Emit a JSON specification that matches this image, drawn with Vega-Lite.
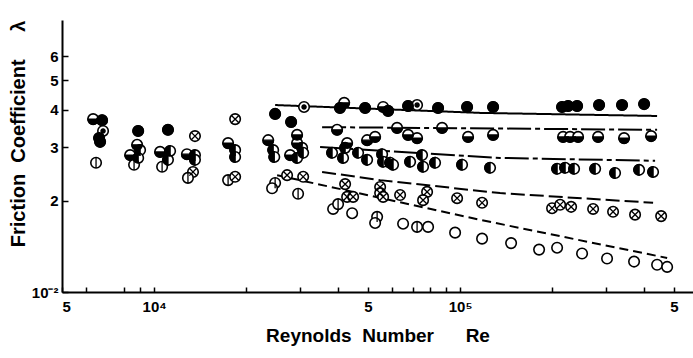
{
  "$schema": "https://vega.github.io/schema/vega-lite/v6.json",
  "width": 631,
  "height": 272,
  "autosize": {"type": "none"},
  "padding": {"left": 62, "top": 20, "right": 0, "bottom": 66},
  "background": "white",
  "config": {
    "view": {"stroke": null},
    "axis": {
      "grid": false,
      "labelFont": "Liberation Sans",
      "labelFontWeight": "bold",
      "labelFontSize": 15,
      "labelColor": "black",
      "titleFont": "Liberation Sans",
      "titleFontWeight": "bold",
      "titleFontSize": 19,
      "titleColor": "black",
      "domainColor": "black",
      "domainWidth": 2,
      "tickColor": "black",
      "tickWidth": 1.5
    }
  },
  "datasets": {
    "pts": [
      {"Re": 6320, "f": 3.72, "t": "B"}, {"Re": 6760, "f": 3.69, "t": "A"}, {"Re": 6810, "f": 3.40, "t": "G"},
      {"Re": 6610, "f": 3.22, "t": "A"}, {"Re": 6660, "f": 3.13, "t": "A"}, {"Re": 6460, "f": 2.67, "t": "F"},
      {"Re": 8870, "f": 3.40, "t": "A"}, {"Re": 8800, "f": 3.06, "t": "B"}, {"Re": 9000, "f": 2.94, "t": "C"},
      {"Re": 8350, "f": 2.83, "t": "B"}, {"Re": 8870, "f": 2.77, "t": "C"}, {"Re": 8600, "f": 2.63, "t": "F"},
      {"Re": 11100, "f": 3.43, "t": "A"}, {"Re": 10460, "f": 2.90, "t": "B"}, {"Re": 11280, "f": 2.92, "t": "C"},
      {"Re": 11100, "f": 2.73, "t": "C"}, {"Re": 10620, "f": 2.59, "t": "F"},
      {"Re": 13600, "f": 3.27, "t": "D"}, {"Re": 12800, "f": 2.85, "t": "B"}, {"Re": 13600, "f": 2.83, "t": "C"},
      {"Re": 13600, "f": 2.73, "t": "C"}, {"Re": 13400, "f": 2.49, "t": "D"}, {"Re": 12900, "f": 2.38, "t": "F"},
      {"Re": 18400, "f": 3.72, "t": "D"}, {"Re": 17450, "f": 3.10, "t": "B"}, {"Re": 18400, "f": 2.94, "t": "C"},
      {"Re": 18400, "f": 2.79, "t": "C"}, {"Re": 17450, "f": 2.34, "t": "F"}, {"Re": 18400, "f": 2.40, "t": "D"},
      {"Re": 24860, "f": 3.87, "t": "A"}, {"Re": 28040, "f": 3.64, "t": "A"}, {"Re": 30900, "f": 4.08, "t": "G"},
      {"Re": 23600, "f": 3.17, "t": "B"}, {"Re": 24500, "f": 2.94, "t": "C"}, {"Re": 24700, "f": 2.79, "t": "C"},
      {"Re": 29330, "f": 3.30, "t": "B"}, {"Re": 29330, "f": 3.10, "t": "B"}, {"Re": 30460, "f": 2.99, "t": "C"},
      {"Re": 30700, "f": 2.88, "t": "C"}, {"Re": 27830, "f": 2.83, "t": "B"}, {"Re": 29330, "f": 2.77, "t": "C"},
      {"Re": 27200, "f": 2.43, "t": "D"}, {"Re": 30700, "f": 2.40, "t": "D"}, {"Re": 24860, "f": 2.29, "t": "F"},
      {"Re": 24300, "f": 2.20, "t": "E"}, {"Re": 29550, "f": 2.11, "t": "F"},
      {"Re": 40500, "f": 4.05, "t": "A"}, {"Re": 41800, "f": 4.21, "t": "B"}, {"Re": 48930, "f": 4.05, "t": "A"},
      {"Re": 56040, "f": 4.08, "t": "B"}, {"Re": 58170, "f": 3.96, "t": "A"}, {"Re": 67620, "f": 4.11, "t": "A"},
      {"Re": 72350, "f": 4.14, "t": "G"}, {"Re": 84730, "f": 4.05, "t": "A"}, {"Re": 105400, "f": 4.08, "t": "A"},
      {"Re": 128200, "f": 4.08, "t": "A"}, {"Re": 215400, "f": 4.08, "t": "A"}, {"Re": 225400, "f": 4.11, "t": "A"},
      {"Re": 241200, "f": 4.11, "t": "A"}, {"Re": 284600, "f": 4.14, "t": "A"}, {"Re": 338300, "f": 4.14, "t": "A"},
      {"Re": 399400, "f": 4.17, "t": "A"},
      {"Re": 39630, "f": 3.43, "t": "B"}, {"Re": 62240, "f": 3.48, "t": "B"}, {"Re": 67620, "f": 3.30, "t": "B"},
      {"Re": 72350, "f": 3.22, "t": "B"}, {"Re": 87330, "f": 3.48, "t": "B"}, {"Re": 106200, "f": 3.25, "t": "B"},
      {"Re": 128200, "f": 3.30, "t": "B"}, {"Re": 217100, "f": 3.25, "t": "B"}, {"Re": 228800, "f": 3.25, "t": "B"},
      {"Re": 243000, "f": 3.25, "t": "B"}, {"Re": 282500, "f": 3.25, "t": "B"}, {"Re": 343500, "f": 3.22, "t": "B"},
      {"Re": 421000, "f": 3.27, "t": "B"}, {"Re": 49680, "f": 3.17, "t": "B"}, {"Re": 52760, "f": 3.25, "t": "B"},
      {"Re": 42740, "f": 3.10, "t": "B"},
      {"Re": 38160, "f": 2.88, "t": "C"}, {"Re": 41460, "f": 2.77, "t": "C"}, {"Re": 42100, "f": 2.99, "t": "C"},
      {"Re": 46420, "f": 2.88, "t": "C"}, {"Re": 49680, "f": 2.73, "t": "C"}, {"Re": 55620, "f": 2.85, "t": "C"},
      {"Re": 56040, "f": 2.69, "t": "C"}, {"Re": 59050, "f": 2.67, "t": "C"}, {"Re": 60390, "f": 2.63, "t": "C"},
      {"Re": 68640, "f": 2.69, "t": "C"}, {"Re": 75120, "f": 2.83, "t": "C"}, {"Re": 75690, "f": 2.59, "t": "C"},
      {"Re": 82840, "f": 2.67, "t": "C"}, {"Re": 101500, "f": 2.63, "t": "C"}, {"Re": 125300, "f": 2.57, "t": "C"},
      {"Re": 207500, "f": 2.55, "t": "C"}, {"Re": 220400, "f": 2.57, "t": "C"}, {"Re": 235800, "f": 2.55, "t": "C"},
      {"Re": 276300, "f": 2.55, "t": "C"}, {"Re": 321000, "f": 2.47, "t": "C"}, {"Re": 384600, "f": 2.53, "t": "C"},
      {"Re": 427300, "f": 2.49, "t": "C"},
      {"Re": 42100, "f": 2.27, "t": "D"}, {"Re": 42740, "f": 2.06, "t": "D"}, {"Re": 44710, "f": 2.06, "t": "D"},
      {"Re": 54790, "f": 2.22, "t": "D"}, {"Re": 54790, "f": 2.12, "t": "D"}, {"Re": 56040, "f": 2.06, "t": "D"},
      {"Re": 63670, "f": 2.09, "t": "D"}, {"Re": 78010, "f": 2.14, "t": "D"}, {"Re": 75690, "f": 2.01, "t": "D"},
      {"Re": 97770, "f": 2.04, "t": "D"}, {"Re": 118000, "f": 1.97, "t": "D"}, {"Re": 199800, "f": 1.89, "t": "D"},
      {"Re": 212300, "f": 1.94, "t": "D"}, {"Re": 230600, "f": 1.91, "t": "D"}, {"Re": 272100, "f": 1.88, "t": "D"},
      {"Re": 316200, "f": 1.84, "t": "D"}, {"Re": 373100, "f": 1.80, "t": "D"}, {"Re": 454000, "f": 1.78, "t": "D"},
      {"Re": 38460, "f": 1.88, "t": "E"}, {"Re": 39930, "f": 1.95, "t": "F"}, {"Re": 44380, "f": 1.82, "t": "E"},
      {"Re": 53560, "f": 1.77, "t": "F"}, {"Re": 52760, "f": 1.69, "t": "E"}, {"Re": 65120, "f": 1.68, "t": "E"},
      {"Re": 72350, "f": 1.64, "t": "F"}, {"Re": 78600, "f": 1.64, "t": "E"}, {"Re": 96310, "f": 1.57, "t": "E"},
      {"Re": 118000, "f": 1.50, "t": "E"}, {"Re": 146800, "f": 1.45, "t": "E"}, {"Re": 181200, "f": 1.38, "t": "E"},
      {"Re": 207500, "f": 1.40, "t": "E"}, {"Re": 250400, "f": 1.34, "t": "E"}, {"Re": 302200, "f": 1.29, "t": "E"},
      {"Re": 370300, "f": 1.26, "t": "E"}, {"Re": 440400, "f": 1.23, "t": "E"}, {"Re": 475000, "f": 1.21, "t": "E"}
    ],
    "lines": [
      {"id": "L1", "o": 1, "Re": 24860, "f": 4.14}, {"id": "L1", "o": 2, "Re": 116300, "f": 3.90}, {"id": "L1", "o": 3, "Re": 440400, "f": 3.81},
      {"id": "L2", "o": 1, "Re": 35400, "f": 3.50}, {"id": "L2", "o": 2, "Re": 440400, "f": 3.43},
      {"id": "L3", "o": 1, "Re": 34870, "f": 3.01}, {"id": "L3", "o": 2, "Re": 135100, "f": 2.77}, {"id": "L3", "o": 3, "Re": 433800, "f": 2.71},
      {"id": "L4", "o": 1, "Re": 35400, "f": 2.49}, {"id": "L4", "o": 2, "Re": 54790, "f": 2.34}, {"id": "L4", "o": 3, "Re": 135100, "f": 2.12}, {"id": "L4", "o": 4, "Re": 427300, "f": 1.97},
      {"id": "L5", "o": 1, "Re": 25235, "f": 2.43}, {"id": "L5", "o": 2, "Re": 116300, "f": 1.73}, {"id": "L5", "o": 3, "Re": 475000, "f": 1.295}
    ]
  },
  "encoding": {
    "x": {
      "field": "Re", "type": "quantitative",
      "scale": {"type": "log", "domain": [5000, 577000], "nice": false},
      "axis": {
        "title": "Reynolds\u00a0\u00a0Number\u00a0\u00a0\u00a0\u00a0\u00a0\u00a0Re",
        "values": [5000, 6000, 8000, 9000, 10000, 20000, 30000, 40000, 50000, 60000, 70000, 80000, 90000, 100000, 200000, 300000, 400000, 500000],
        "labelExpr": "datum.value == 10000 ? '10⁴' : datum.value == 100000 ? '10⁵' : (datum.value == 5000 || datum.value == 50000 || datum.value == 500000) ? '5' : ''",
        "tickSize": -5,
        "labelPadding": 12,
        "labelOverlap": false,
        "titlePadding": 12
      }
    },
    "y": {
      "field": "f", "type": "quantitative",
      "scale": {"type": "log", "domain": [1, 7.9], "nice": false},
      "axis": {
        "title": "Friction\u00a0\u00a0Coefficient\u00a0\u00a0\u00a0\u00a0\u00a0λ",
        "titleAnchor": "end",
        "titleFontSize": 20,
        "values": [1, 2, 3, 4, 5, 6],
        "labelExpr": "datum.value == 1 ? '10⁻²' : datum.label",
        "tickSize": -6,
        "labelPadding": 10,
        "titlePadding": 3
      }
    }
  },
  "layer": [
    {
      "data": {"name": "lines"},
      "mark": {"type": "line", "color": "black", "strokeWidth": 2},
      "encoding": {
        "detail": {"field": "id"},
        "order": {"field": "o"},
        "strokeDash": {
          "field": "id", "type": "nominal", "legend": null,
          "scale": {"domain": ["L1", "L2", "L3", "L4", "L5"], "range": [[1, 0], [24, 4, 5, 4], [24, 4, 5, 4], [14, 5], [9, 5]]}
        }
      }
    },
    {
      "data": {"name": "pts"},
      "mark": {"type": "point", "shape": "circle", "filled": true, "fill": "white", "stroke": "black", "strokeWidth": 1.6, "size": 110, "opacity": 1}
    },
    {
      "data": {"name": "pts"},
      "transform": [{"filter": "datum.t != 'E'"}],
      "mark": {"type": "point", "filled": true, "fill": "black", "stroke": "black", "strokeWidth": 1.3, "size": 110, "opacity": 1},
      "encoding": {
        "shape": {
          "field": "t", "type": "nominal", "legend": null,
          "scale": {
            "domain": ["A", "B", "C", "D", "F", "G"],
            "range": [
              "circle",
              "M -1 0 A 1 1 0 0 0 1 0 Z",
              "M 0 -1 A 1 1 0 0 0 0 1 Z",
              "M -0.7 -0.7 L 0.7 0.7 M -0.7 0.7 L 0.7 -0.7",
              "M 0 -1 L 0 1",
              "M -0.4 0 A 0.4 0.4 0 1 0 0.4 0 A 0.4 0.4 0 1 0 -0.4 0 Z"
            ]
          }
        }
      }
    }
  ]
}
